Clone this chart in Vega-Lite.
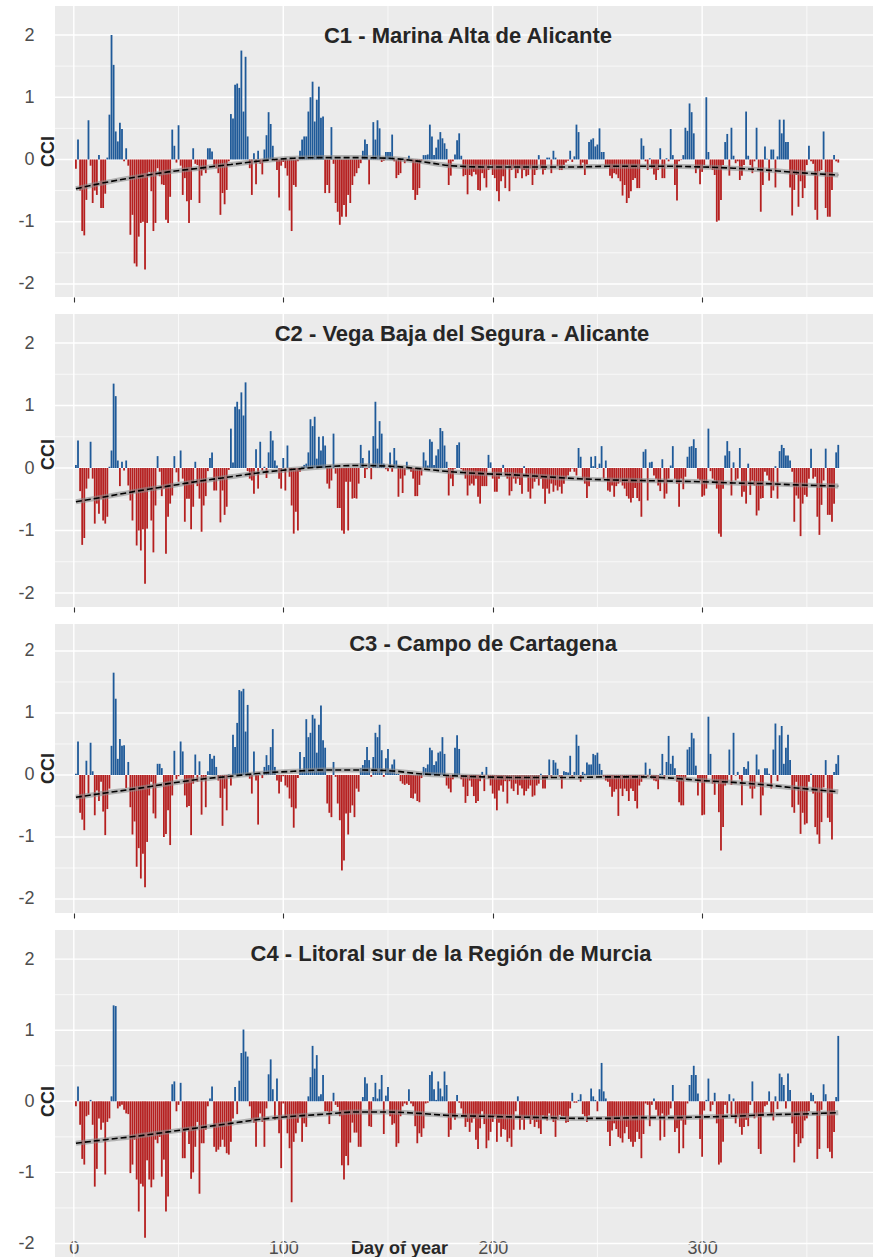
{
"$schema": "https://vega.github.io/schema/vega-lite/v6.json",
"background": "white",
"padding": {"left": 17, "top": 5, "right": 0, "bottom": 0},
"bounds": "flush",
"spacing": 17,
"resolve": {"scale": {"x": "independent", "y": "independent"}},
"config": {
  "view": {"fill": "#EBEBEB", "stroke": null},
  "font": "Liberation Sans",
  "axis": {"grid": false, "domain": false, "ticks": false, "labelFont": "Liberation Sans", "titleFont": "Liberation Sans", "labelFontSize": 18, "labelColor": "#4D4D4D", "titleFontSize": 18, "titleFontWeight": "bold", "titleColor": "#262626"}
},
"datasets": {
"c1": [
{"d":1,"v":-0.15},{"d":2,"v":0.32},{"d":3,"v":-0.5},{"d":4,"v":-1.15},{"d":5,"v":-1.22},{"d":6,"v":-0.65},{"d":7,"v":0.63},{"d":8,"v":-0.1},{"d":9,"v":-0.7},{"d":10,"v":-0.5},
{"d":11,"v":-0.57},{"d":12,"v":0.07},{"d":13,"v":-0.78},{"d":14,"v":-0.78},{"d":15,"v":-0.55},{"d":16,"v":0.03},{"d":17,"v":0.72},{"d":18,"v":2.0},{"d":19,"v":1.52},{"d":20,"v":0.45},
{"d":21,"v":0.29},{"d":22,"v":0.59},{"d":23,"v":0.49},{"d":24,"v":-0.03},{"d":25,"v":0.18},{"d":26,"v":-0.1},{"d":27,"v":-1.21},{"d":28,"v":-0.89},{"d":29,"v":-1.67},{"d":30,"v":-1.72},
{"d":31,"v":-1.24},{"d":32,"v":-1.02},{"d":33,"v":-1.0},{"d":34,"v":-1.77},{"d":35,"v":-1.02},{"d":36,"v":-0.2},{"d":37,"v":-0.51},{"d":38,"v":-1.15},{"d":39,"v":-1.02},{"d":40,"v":-0.14},
{"d":41,"v":-0.27},{"d":42,"v":-0.4},{"d":43,"v":-0.41},{"d":44,"v":-0.97},{"d":45,"v":-1.02},{"d":46,"v":-0.6},{"d":47,"v":0.48},{"d":48,"v":0.22},{"d":49,"v":-0.05},{"d":50,"v":0.55},
{"d":51,"v":-0.1},{"d":52,"v":-0.57},{"d":53,"v":-0.3},{"d":54,"v":-0.67},{"d":55,"v":-1.02},{"d":56,"v":-0.65},{"d":57,"v":0.18},{"d":58,"v":-0.07},{"d":59,"v":-0.09},{"d":60,"v":-0.7},
{"d":61,"v":-0.26},{"d":62,"v":-0.17},{"d":63,"v":-0.22},{"d":64,"v":0.18},{"d":65,"v":0.18},{"d":66,"v":0.13},{"d":67,"v":-0.1},{"d":68,"v":-0.14},{"d":69,"v":-0.22},{"d":70,"v":-0.89},
{"d":71,"v":-0.54},{"d":72,"v":-0.72},{"d":73,"v":-0.49},{"d":74,"v":-0.03},{"d":75,"v":0.73},{"d":76,"v":0.66},{"d":77,"v":1.2},{"d":78,"v":1.22},{"d":79,"v":1.15},{"d":80,"v":1.75},
{"d":81,"v":0.77},{"d":82,"v":1.65},{"d":83,"v":0.37},{"d":84,"v":-0.14},{"d":85,"v":-0.57},{"d":86,"v":0.1},{"d":87,"v":-0.4},{"d":88,"v":0.14},{"d":89,"v":-0.07},{"d":90,"v":-0.24},
{"d":91,"v":0.16},{"d":92,"v":0.39},{"d":93,"v":0.76},{"d":94,"v":0.57},{"d":95,"v":0.22},{"d":96,"v":-0.02},{"d":97,"v":-0.17},{"d":98,"v":-0.61},{"d":99,"v":-0.1},{"d":100,"v":-0.04},
{"d":101,"v":-0.14},{"d":102,"v":-0.26},{"d":103,"v":-0.82},{"d":104,"v":-1.15},{"d":105,"v":-0.41},{"d":106,"v":-0.44},{"d":107,"v":-0.03},{"d":108,"v":0.14},{"d":109,"v":0.32},{"d":110,"v":0.37},
{"d":111,"v":0.37},{"d":112,"v":0.77},{"d":113,"v":1.0},{"d":114,"v":1.25},{"d":115,"v":0.61},{"d":116,"v":0.96},{"d":117,"v":1.17},{"d":118,"v":0.67},{"d":119,"v":0.69},{"d":120,"v":-0.54},
{"d":121,"v":-0.41},{"d":122,"v":-0.54},{"d":123,"v":0.52},{"d":124,"v":-0.07},{"d":125,"v":-0.7},{"d":126,"v":-0.84},{"d":127,"v":-1.05},{"d":128,"v":-0.92},{"d":129,"v":-0.73},{"d":130,"v":-0.92},
{"d":131,"v":-0.57},{"d":132,"v":-0.7},{"d":133,"v":-0.41},{"d":134,"v":-0.27},{"d":135,"v":-0.22},{"d":136,"v":-0.14},{"d":137,"v":-0.06},{"d":138,"v":0.14},{"d":139,"v":0.32},{"d":140,"v":0.25},
{"d":141,"v":-0.4},{"d":142,"v":0.02},{"d":143,"v":0.6},{"d":144,"v":0.32},{"d":145,"v":0.63},{"d":146,"v":0.5},{"d":147,"v":-0.04},{"d":148,"v":-0.02},{"d":149,"v":0.12},{"d":150,"v":0.12},
{"d":151,"v":0.12},{"d":152,"v":0.4},{"d":153,"v":-0.03},{"d":154,"v":-0.3},{"d":155,"v":-0.25},{"d":156,"v":-0.22},{"d":157,"v":0.02},{"d":158,"v":-0.06},{"d":159,"v":-0.02},{"d":160,"v":0.06},
{"d":161,"v":-0.03},{"d":162,"v":-0.49},{"d":163,"v":-0.65},{"d":164,"v":-0.57},{"d":165,"v":-0.46},{"d":166,"v":-0.02},{"d":167,"v":0.07},{"d":168,"v":0.07},{"d":169,"v":0.08},{"d":170,"v":0.56},
{"d":171,"v":0.37},{"d":172,"v":0.07},{"d":173,"v":0.19},{"d":174,"v":0.32},{"d":175,"v":0.44},{"d":176,"v":0.34},{"d":177,"v":0.26},{"d":178,"v":0.17},{"d":179,"v":-0.41},{"d":180,"v":-0.26},
{"d":181,"v":-0.03},{"d":182,"v":0.08},{"d":183,"v":0.31},{"d":184,"v":0.42},{"d":185,"v":0.06},{"d":186,"v":-0.27},{"d":187,"v":-0.25},{"d":188,"v":-0.56},{"d":189,"v":-0.25},{"d":190,"v":-0.27},
{"d":191,"v":-0.2},{"d":192,"v":-0.24},{"d":193,"v":-0.49},{"d":194,"v":-0.5},{"d":195,"v":-0.22},{"d":196,"v":-0.3},{"d":197,"v":-0.45},{"d":198,"v":-0.17},{"d":199,"v":-0.09},{"d":200,"v":-0.25},
{"d":201,"v":-0.3},{"d":202,"v":-0.51},{"d":203,"v":-0.67},{"d":204,"v":-0.35},{"d":205,"v":-0.27},{"d":206,"v":-0.46},{"d":207,"v":-0.09},{"d":208,"v":-0.51},{"d":209,"v":-0.17},{"d":210,"v":-0.14},
{"d":211,"v":-0.3},{"d":212,"v":-0.22},{"d":213,"v":-0.14},{"d":214,"v":-0.3},{"d":215,"v":-0.17},{"d":216,"v":-0.27},{"d":217,"v":-0.25},{"d":218,"v":-0.14},{"d":219,"v":-0.41},{"d":220,"v":-0.25},
{"d":221,"v":-0.17},{"d":222,"v":0.07},{"d":223,"v":-0.14},{"d":224,"v":-0.24},{"d":225,"v":-0.17},{"d":226,"v":0.03},{"d":227,"v":0.03},{"d":228,"v":-0.22},{"d":229,"v":0.14},{"d":230,"v":0.03},
{"d":231,"v":-0.11},{"d":232,"v":-0.17},{"d":233,"v":-0.17},{"d":234,"v":-0.09},{"d":235,"v":-0.05},{"d":236,"v":-0.02},{"d":237,"v":0.14},{"d":238,"v":-0.04},{"d":239,"v":0.05},{"d":240,"v":0.56},
{"d":241,"v":0.44},{"d":242,"v":-0.14},{"d":243,"v":-0.05},{"d":244,"v":-0.25},{"d":245,"v":-0.08},{"d":246,"v":0.28},{"d":247,"v":0.32},{"d":248,"v":0.34},{"d":249,"v":0.21},{"d":250,"v":0.24},
{"d":251,"v":0.5},{"d":252,"v":0.12},{"d":253,"v":0.12},{"d":254,"v":-0.09},{"d":255,"v":-0.09},{"d":256,"v":-0.26},{"d":257,"v":-0.3},{"d":258,"v":-0.22},{"d":259,"v":-0.24},{"d":260,"v":-0.3},
{"d":261,"v":-0.35},{"d":262,"v":-0.58},{"d":263,"v":-0.41},{"d":264,"v":-0.7},{"d":265,"v":-0.62},{"d":266,"v":-0.51},{"d":267,"v":-0.33},{"d":268,"v":-0.3},{"d":269,"v":-0.46},{"d":270,"v":-0.46},
{"d":271,"v":0.34},{"d":272,"v":0.22},{"d":273,"v":-0.03},{"d":274,"v":-0.17},{"d":275,"v":0.02},{"d":276,"v":-0.14},{"d":277,"v":-0.24},{"d":278,"v":-0.33},{"d":279,"v":-0.17},{"d":280,"v":0.18},
{"d":281,"v":-0.3},{"d":282,"v":-0.3},{"d":283,"v":0.02},{"d":284,"v":-0.03},{"d":285,"v":0.49},{"d":286,"v":0.07},{"d":287,"v":-0.41},{"d":288,"v":-0.66},{"d":289,"v":-0.03},{"d":290,"v":-0.01},
{"d":291,"v":0.07},{"d":292,"v":0.51},{"d":293,"v":0.46},{"d":294,"v":0.9},{"d":295,"v":0.76},{"d":296,"v":0.42},{"d":297,"v":-0.22},{"d":298,"v":-0.14},{"d":299,"v":-0.4},{"d":300,"v":-0.2},
{"d":301,"v":-0.09},{"d":302,"v":1.0},{"d":303,"v":0.12},{"d":304,"v":-0.14},{"d":305,"v":-0.17},{"d":306,"v":-0.25},{"d":307,"v":-1.0},{"d":308,"v":-0.98},{"d":309,"v":-0.65},{"d":310,"v":-0.09},
{"d":311,"v":0.28},{"d":312,"v":0.41},{"d":313,"v":-0.26},{"d":314,"v":0.51},{"d":315,"v":0.06},{"d":316,"v":-0.06},{"d":317,"v":-0.03},{"d":318,"v":-0.33},{"d":319,"v":-0.26},{"d":320,"v":-0.09},
{"d":321,"v":0.77},{"d":322,"v":0.06},{"d":323,"v":-0.09},{"d":324,"v":-0.22},{"d":325,"v":-0.03},{"d":326,"v":0.51},{"d":327,"v":-0.14},{"d":328,"v":-0.84},{"d":329,"v":-0.41},{"d":330,"v":0.21},
{"d":331,"v":0.01},{"d":332,"v":-0.34},{"d":333,"v":0.16},{"d":334,"v":0.16},{"d":335,"v":-0.45},{"d":336,"v":0.05},{"d":337,"v":0.64},{"d":338,"v":0.42},{"d":339,"v":0.64},{"d":340,"v":0.28},
{"d":341,"v":0.28},{"d":342,"v":-0.45},{"d":343,"v":-0.9},{"d":344,"v":-0.49},{"d":345,"v":-0.25},{"d":346,"v":-0.76},{"d":347,"v":-0.35},{"d":348,"v":-0.62},{"d":349,"v":-0.46},{"d":350,"v":-0.09},
{"d":351,"v":0.22},{"d":352,"v":-0.03},{"d":353,"v":-0.07},{"d":354,"v":-0.81},{"d":355,"v":-0.97},{"d":356,"v":-0.19},{"d":357,"v":-0.17},{"d":358,"v":0.45},{"d":359,"v":-0.78},{"d":360,"v":-0.92},
{"d":361,"v":-0.92},{"d":362,"v":-0.49},{"d":363,"v":0.07},{"d":364,"v":-0.03},{"d":365,"v":-0.05}
],
"c2": [
{"d":1,"v":0.05},{"d":2,"v":0.44},{"d":3,"v":-0.37},{"d":4,"v":-1.23},{"d":5,"v":-1.12},{"d":6,"v":-0.33},{"d":7,"v":-0.17},{"d":8,"v":0.42},{"d":9,"v":-0.17},{"d":10,"v":-0.89},
{"d":11,"v":-0.57},{"d":12,"v":-0.73},{"d":13,"v":-0.49},{"d":14,"v":-0.84},{"d":15,"v":-0.89},{"d":16,"v":-0.78},{"d":17,"v":0.02},{"d":18,"v":0.28},{"d":19,"v":1.35},{"d":20,"v":1.15},
{"d":21,"v":0.12},{"d":22,"v":-0.29},{"d":23,"v":0.1},{"d":24,"v":-0.04},{"d":25,"v":0.12},{"d":26,"v":-0.28},{"d":27,"v":-0.52},{"d":28,"v":-0.84},{"d":29,"v":-0.38},{"d":30,"v":-1.24},
{"d":31,"v":-1.0},{"d":32,"v":-1.32},{"d":33,"v":-0.98},{"d":34,"v":-1.85},{"d":35,"v":-0.97},{"d":36,"v":-0.33},{"d":37,"v":-0.84},{"d":38,"v":-1.35},{"d":39,"v":-0.6},{"d":40,"v":0.19},
{"d":41,"v":-0.06},{"d":42,"v":-0.45},{"d":43,"v":-0.33},{"d":44,"v":-1.37},{"d":45,"v":-0.78},{"d":46,"v":-0.57},{"d":47,"v":-0.44},{"d":48,"v":0.19},{"d":49,"v":-0.07},{"d":50,"v":-0.22},
{"d":51,"v":0.28},{"d":52,"v":-0.17},{"d":53,"v":-0.86},{"d":54,"v":-0.49},{"d":55,"v":-0.49},{"d":56,"v":-0.98},{"d":57,"v":-0.62},{"d":58,"v":0.1},{"d":59,"v":-0.29},{"d":60,"v":-0.49},
{"d":61,"v":-1.02},{"d":62,"v":-0.6},{"d":63,"v":-0.45},{"d":64,"v":-0.05},{"d":65,"v":0.16},{"d":66,"v":0.25},{"d":67,"v":-0.36},{"d":68,"v":-0.36},{"d":69,"v":-0.17},{"d":70,"v":-0.87},
{"d":71,"v":-0.36},{"d":72,"v":-0.75},{"d":73,"v":-0.62},{"d":74,"v":-0.03},{"d":75,"v":0.63},{"d":76,"v":0.09},{"d":77,"v":0.98},{"d":78,"v":1.06},{"d":79,"v":0.94},{"d":80,"v":1.21},
{"d":81,"v":0.84},{"d":82,"v":1.37},{"d":83,"v":-0.05},{"d":84,"v":-0.17},{"d":85,"v":-0.2},{"d":86,"v":-0.41},{"d":87,"v":0.3},{"d":88,"v":-0.33},{"d":89,"v":0.42},{"d":90,"v":-0.04},
{"d":91,"v":0.02},{"d":92,"v":-0.16},{"d":93,"v":0.25},{"d":94,"v":0.59},{"d":95,"v":0.44},{"d":96,"v":0.12},{"d":97,"v":0.04},{"d":98,"v":-0.17},{"d":99,"v":-0.33},{"d":100,"v":0.16},
{"d":101,"v":-0.36},{"d":102,"v":0.36},{"d":103,"v":-0.14},{"d":104,"v":-0.6},{"d":105,"v":-1.05},{"d":106,"v":-0.7},{"d":107,"v":-1.0},{"d":108,"v":-0.06},{"d":109,"v":0.02},{"d":110,"v":0.05},
{"d":111,"v":0.07},{"d":112,"v":0.25},{"d":113,"v":0.78},{"d":114,"v":0.67},{"d":115,"v":0.82},{"d":116,"v":0.15},{"d":117,"v":0.5},{"d":118,"v":0.28},{"d":119,"v":0.51},{"d":120,"v":0.36},
{"d":121,"v":-0.25},{"d":122,"v":-0.33},{"d":123,"v":-0.2},{"d":124,"v":0.55},{"d":125,"v":-0.09},{"d":126,"v":-0.64},{"d":127,"v":-0.64},{"d":128,"v":-1.0},{"d":129,"v":-1.05},{"d":130,"v":-0.22},
{"d":131,"v":-1.0},{"d":132,"v":-0.22},{"d":133,"v":-0.49},{"d":134,"v":-0.48},{"d":135,"v":-0.49},{"d":136,"v":-0.25},{"d":137,"v":0.37},{"d":138,"v":0.16},{"d":139,"v":-0.16},{"d":140,"v":-0.02},
{"d":141,"v":0.28},{"d":142,"v":-0.18},{"d":143,"v":0.51},{"d":144,"v":1.06},{"d":145,"v":0.31},{"d":146,"v":0.75},{"d":147,"v":0.55},{"d":148,"v":0.07},{"d":149,"v":-0.02},{"d":150,"v":-0.05},
{"d":151,"v":0.25},{"d":152,"v":-0.06},{"d":153,"v":0.32},{"d":154,"v":0.12},{"d":155,"v":-0.46},{"d":156,"v":-0.17},{"d":157,"v":-0.4},{"d":158,"v":-0.12},{"d":159,"v":0.1},{"d":160,"v":-0.01},
{"d":161,"v":-0.06},{"d":162,"v":-0.17},{"d":163,"v":-0.45},{"d":164,"v":-0.45},{"d":165,"v":-0.27},{"d":166,"v":-0.12},{"d":167,"v":0.25},{"d":168,"v":0.12},{"d":169,"v":0.04},{"d":170,"v":0.46},
{"d":171,"v":0.42},{"d":172,"v":0.05},{"d":173,"v":0.2},{"d":174,"v":0.3},{"d":175,"v":0.64},{"d":176,"v":0.59},{"d":177,"v":0.36},{"d":178,"v":0.1},{"d":179,"v":-0.44},{"d":180,"v":-0.17},
{"d":181,"v":-0.29},{"d":182,"v":-0.01},{"d":183,"v":0.37},{"d":184,"v":0.41},{"d":185,"v":-0.02},{"d":186,"v":-0.05},{"d":187,"v":-0.17},{"d":188,"v":-0.44},{"d":189,"v":-0.28},{"d":190,"v":-0.25},
{"d":191,"v":-0.28},{"d":192,"v":-0.17},{"d":193,"v":-0.46},{"d":194,"v":-0.57},{"d":195,"v":-0.29},{"d":196,"v":-0.29},{"d":197,"v":-0.29},{"d":198,"v":0.21},{"d":199,"v":0.09},{"d":200,"v":-0.17},
{"d":201,"v":-0.38},{"d":202,"v":-0.38},{"d":203,"v":-0.17},{"d":204,"v":-0.08},{"d":205,"v":0.05},{"d":206,"v":-0.12},{"d":207,"v":-0.17},{"d":208,"v":-0.44},{"d":209,"v":-0.37},{"d":210,"v":-0.17},
{"d":211,"v":-0.25},{"d":212,"v":-0.17},{"d":213,"v":-0.27},{"d":214,"v":-0.41},{"d":215,"v":0.03},{"d":216,"v":-0.12},{"d":217,"v":-0.38},{"d":218,"v":-0.49},{"d":219,"v":-0.33},{"d":220,"v":-0.22},
{"d":221,"v":-0.17},{"d":222,"v":-0.28},{"d":223,"v":-0.17},{"d":224,"v":-0.33},{"d":225,"v":-0.57},{"d":226,"v":-0.33},{"d":227,"v":-0.41},{"d":228,"v":-0.25},{"d":229,"v":-0.38},{"d":230,"v":-0.28},
{"d":231,"v":-0.36},{"d":232,"v":-0.3},{"d":233,"v":-0.41},{"d":234,"v":-0.25},{"d":235,"v":-0.17},{"d":236,"v":-0.12},{"d":237,"v":-0.06},{"d":238,"v":-0.01},{"d":239,"v":-0.06},{"d":240,"v":-0.12},
{"d":241,"v":0.32},{"d":242,"v":0.18},{"d":243,"v":-0.17},{"d":244,"v":-0.25},{"d":245,"v":-0.48},{"d":246,"v":-0.29},{"d":247,"v":0.18},{"d":248,"v":0.03},{"d":249,"v":0.19},{"d":250,"v":-0.01},
{"d":251,"v":0.07},{"d":252,"v":0.35},{"d":253,"v":-0.17},{"d":254,"v":0.12},{"d":255,"v":-0.36},{"d":256,"v":-0.38},{"d":257,"v":-0.28},{"d":258,"v":-0.46},{"d":259,"v":-0.29},{"d":260,"v":-0.25},
{"d":261,"v":-0.22},{"d":262,"v":-0.28},{"d":263,"v":-0.33},{"d":264,"v":-0.45},{"d":265,"v":-0.49},{"d":266,"v":-0.55},{"d":267,"v":-0.48},{"d":268,"v":-0.32},{"d":269,"v":-0.48},{"d":270,"v":-0.53},
{"d":271,"v":-0.78},{"d":272,"v":0.26},{"d":273,"v":0.3},{"d":274,"v":-0.52},{"d":275,"v":0.09},{"d":276,"v":0.1},{"d":277,"v":-0.12},{"d":278,"v":-0.17},{"d":279,"v":-0.28},{"d":280,"v":-0.37},
{"d":281,"v":0.14},{"d":282,"v":-0.49},{"d":283,"v":-0.41},{"d":284,"v":-0.17},{"d":285,"v":0.04},{"d":286,"v":0.35},{"d":287,"v":-0.17},{"d":288,"v":-0.25},{"d":289,"v":-0.62},{"d":290,"v":-0.17},
{"d":291,"v":-0.34},{"d":292,"v":-0.14},{"d":293,"v":0.18},{"d":294,"v":0.34},{"d":295,"v":0.35},{"d":296,"v":0.46},{"d":297,"v":0.32},{"d":298,"v":-0.17},{"d":299,"v":-0.2},{"d":300,"v":-0.46},
{"d":301,"v":-0.44},{"d":302,"v":-0.33},{"d":303,"v":0.63},{"d":304,"v":-0.05},{"d":305,"v":-0.17},{"d":306,"v":-0.2},{"d":307,"v":-0.33},{"d":308,"v":-1.05},{"d":309,"v":-1.1},{"d":310,"v":-0.33},
{"d":311,"v":0.2},{"d":312,"v":0.43},{"d":313,"v":0.27},{"d":314,"v":-0.44},{"d":315,"v":0.09},{"d":316,"v":-0.2},{"d":317,"v":-0.17},{"d":318,"v":0.32},{"d":319,"v":-0.46},{"d":320,"v":-0.38},
{"d":321,"v":-0.57},{"d":322,"v":0.07},{"d":323,"v":-0.43},{"d":324,"v":-0.2},{"d":325,"v":-0.28},{"d":326,"v":-0.76},{"d":327,"v":-0.68},{"d":328,"v":-0.49},{"d":329,"v":-0.48},{"d":330,"v":-0.06},
{"d":331,"v":-0.12},{"d":332,"v":-0.2},{"d":333,"v":-0.48},{"d":334,"v":-0.36},{"d":335,"v":0.03},{"d":336,"v":-0.49},{"d":337,"v":0.27},{"d":338,"v":0.37},{"d":339,"v":0.32},{"d":340,"v":0.2},
{"d":341,"v":0.2},{"d":342,"v":0.12},{"d":343,"v":-0.06},{"d":344,"v":-0.86},{"d":345,"v":-0.44},{"d":346,"v":-0.49},{"d":347,"v":-1.09},{"d":348,"v":-0.57},{"d":349,"v":-0.43},{"d":350,"v":-0.46},
{"d":351,"v":-0.17},{"d":352,"v":0.31},{"d":353,"v":-0.17},{"d":354,"v":-0.14},{"d":355,"v":-0.78},{"d":356,"v":-1.07},{"d":357,"v":-0.59},{"d":358,"v":-0.2},{"d":359,"v":0.31},{"d":360,"v":-0.75},
{"d":361,"v":-0.75},{"d":362,"v":-0.86},{"d":363,"v":-0.57},{"d":364,"v":0.25},{"d":365,"v":0.37}
],
"c3": [
{"d":1,"v":0.02},{"d":2,"v":0.54},{"d":3,"v":-0.61},{"d":4,"v":-0.72},{"d":5,"v":-0.89},{"d":6,"v":0.23},{"d":7,"v":-0.3},{"d":8,"v":0.52},{"d":9,"v":0.06},{"d":10,"v":-0.65},
{"d":11,"v":-0.25},{"d":12,"v":-0.42},{"d":13,"v":-0.11},{"d":14,"v":-0.59},{"d":15,"v":-0.97},{"d":16,"v":-0.55},{"d":17,"v":-0.22},{"d":18,"v":0.47},{"d":19,"v":1.65},{"d":20,"v":1.23},
{"d":21,"v":0.26},{"d":22,"v":0.58},{"d":23,"v":0.47},{"d":24,"v":0.48},{"d":25,"v":-0.21},{"d":26,"v":0.21},{"d":27,"v":-0.52},{"d":28,"v":-0.96},{"d":29,"v":-0.75},{"d":30,"v":-1.48},
{"d":31,"v":-1.18},{"d":32,"v":-1.67},{"d":33,"v":-1.27},{"d":34,"v":-1.81},{"d":35,"v":-1.08},{"d":36,"v":-0.33},{"d":37,"v":-0.11},{"d":38,"v":-0.62},{"d":39,"v":-0.7},{"d":40,"v":0.18},
{"d":41,"v":0.18},{"d":42,"v":0.11},{"d":43,"v":-1.0},{"d":44,"v":-0.95},{"d":45,"v":-0.57},{"d":46,"v":-1.13},{"d":47,"v":-0.33},{"d":48,"v":0.39},{"d":49,"v":-0.07},{"d":50,"v":-0.02},
{"d":51,"v":0.54},{"d":52,"v":0.38},{"d":53,"v":-0.33},{"d":54,"v":-0.52},{"d":55,"v":-0.5},{"d":56,"v":-0.97},{"d":57,"v":-0.14},{"d":58,"v":0.33},{"d":59,"v":-0.11},{"d":60,"v":0.22},
{"d":61,"v":-0.64},{"d":62,"v":-0.07},{"d":63,"v":-0.52},{"d":64,"v":0.06},{"d":65,"v":0.34},{"d":66,"v":0.26},{"d":67,"v":0.31},{"d":68,"v":0.13},{"d":69,"v":-0.09},{"d":70,"v":-0.37},
{"d":71,"v":-0.82},{"d":72,"v":-0.22},{"d":73,"v":-0.57},{"d":74,"v":0.01},{"d":75,"v":-0.17},{"d":76,"v":0.65},{"d":77,"v":0.45},{"d":78,"v":0.84},{"d":79,"v":1.37},{"d":80,"v":1.35},
{"d":81,"v":1.39},{"d":82,"v":0.7},{"d":83,"v":1.13},{"d":84,"v":-0.06},{"d":85,"v":-0.3},{"d":86,"v":0.38},{"d":87,"v":-0.09},{"d":88,"v":-0.8},{"d":89,"v":0.01},{"d":90,"v":-0.05},
{"d":91,"v":0.13},{"d":92,"v":0.32},{"d":93,"v":0.16},{"d":94,"v":0.45},{"d":95,"v":0.74},{"d":96,"v":0.13},{"d":97,"v":-0.09},{"d":98,"v":-0.3},{"d":99,"v":-0.11},{"d":100,"v":-0.02},
{"d":101,"v":-0.17},{"d":102,"v":-0.2},{"d":103,"v":-0.38},{"d":104,"v":-0.52},{"d":105,"v":-0.85},{"d":106,"v":-0.54},{"d":107,"v":-0.05},{"d":108,"v":0.37},{"d":109,"v":0.05},{"d":110,"v":0.29},
{"d":111,"v":0.9},{"d":112,"v":0.61},{"d":113,"v":0.68},{"d":114,"v":0.97},{"d":115,"v":0.91},{"d":116,"v":0.36},{"d":117,"v":0.81},{"d":118,"v":1.12},{"d":119,"v":0.56},{"d":120,"v":0.44},
{"d":121,"v":-0.46},{"d":122,"v":-0.61},{"d":123,"v":-0.68},{"d":124,"v":0.21},{"d":125,"v":-0.03},{"d":126,"v":-0.46},{"d":127,"v":-0.73},{"d":128,"v":-1.54},{"d":129,"v":-1.38},{"d":130,"v":-0.62},
{"d":131,"v":-0.96},{"d":132,"v":-0.61},{"d":133,"v":-0.49},{"d":134,"v":-0.68},{"d":135,"v":-0.22},{"d":136,"v":-0.27},{"d":137,"v":0.11},{"d":138,"v":0.16},{"d":139,"v":0.24},{"d":140,"v":0.45},
{"d":141,"v":0.24},{"d":142,"v":-0.03},{"d":143,"v":0.29},{"d":144,"v":0.68},{"d":145,"v":0.61},{"d":146,"v":0.81},{"d":147,"v":0.4},{"d":148,"v":-0.03},{"d":149,"v":0.27},{"d":150,"v":0.42},
{"d":151,"v":0.09},{"d":152,"v":0.17},{"d":153,"v":0.25},{"d":154,"v":0.02},{"d":155,"v":0.02},{"d":156,"v":-0.1},{"d":157,"v":-0.14},{"d":158,"v":-0.16},{"d":159,"v":-0.14},{"d":160,"v":-0.16},
{"d":161,"v":-0.37},{"d":162,"v":-0.38},{"d":163,"v":-0.3},{"d":164,"v":-0.42},{"d":165,"v":-0.44},{"d":166,"v":-0.05},{"d":167,"v":0.13},{"d":168,"v":0.11},{"d":169,"v":0.17},{"d":170,"v":0.44},
{"d":171,"v":0.4},{"d":172,"v":0.16},{"d":173,"v":0.22},{"d":174,"v":0.36},{"d":175,"v":0.38},{"d":176,"v":0.61},{"d":177,"v":0.34},{"d":178,"v":-0.17},{"d":179,"v":-0.22},{"d":180,"v":-0.28},
{"d":181,"v":-0.07},{"d":182,"v":0.44},{"d":183,"v":0.64},{"d":184,"v":0.42},{"d":185,"v":-0.07},{"d":186,"v":-0.19},{"d":187,"v":-0.45},{"d":188,"v":-0.34},{"d":189,"v":-0.09},{"d":190,"v":-0.19},
{"d":191,"v":-0.34},{"d":192,"v":-0.45},{"d":193,"v":-0.42},{"d":194,"v":-0.1},{"d":195,"v":0.05},{"d":196,"v":-0.26},{"d":197,"v":0.13},{"d":198,"v":-0.06},{"d":199,"v":-0.17},{"d":200,"v":-0.3},
{"d":201,"v":-0.38},{"d":202,"v":-0.57},{"d":203,"v":-0.25},{"d":204,"v":-0.17},{"d":205,"v":-0.27},{"d":206,"v":-0.1},{"d":207,"v":-0.46},{"d":208,"v":-0.1},{"d":209,"v":-0.22},{"d":210,"v":-0.26},
{"d":211,"v":-0.14},{"d":212,"v":-0.32},{"d":213,"v":-0.17},{"d":214,"v":-0.22},{"d":215,"v":-0.33},{"d":216,"v":-0.26},{"d":217,"v":-0.22},{"d":218,"v":-0.17},{"d":219,"v":-0.35},{"d":220,"v":-0.33},
{"d":221,"v":-0.17},{"d":222,"v":-0.14},{"d":223,"v":0.02},{"d":224,"v":-0.22},{"d":225,"v":-0.22},{"d":226,"v":-0.05},{"d":227,"v":0.25},{"d":228,"v":-0.05},{"d":229,"v":0.24},{"d":230,"v":0.2},
{"d":231,"v":0.1},{"d":232,"v":-0.03},{"d":233,"v":-0.22},{"d":234,"v":0.06},{"d":235,"v":0.05},{"d":236,"v":0.04},{"d":237,"v":0.31},{"d":238,"v":-0.03},{"d":239,"v":0.05},{"d":240,"v":0.65},
{"d":241,"v":0.47},{"d":242,"v":-0.11},{"d":243,"v":0.05},{"d":244,"v":0.02},{"d":245,"v":0.2},{"d":246,"v":0.17},{"d":247,"v":0.17},{"d":248,"v":0.34},{"d":249,"v":0.32},{"d":250,"v":0.36},
{"d":251,"v":0.18},{"d":252,"v":0.08},{"d":253,"v":-0.03},{"d":254,"v":-0.09},{"d":255,"v":-0.11},{"d":256,"v":-0.19},{"d":257,"v":-0.35},{"d":258,"v":-0.27},{"d":259,"v":-0.23},{"d":260,"v":-0.66},
{"d":261,"v":-0.22},{"d":262,"v":-0.34},{"d":263,"v":-0.22},{"d":264,"v":-0.26},{"d":265,"v":-0.42},{"d":266,"v":-0.22},{"d":267,"v":-0.26},{"d":268,"v":-0.42},{"d":269,"v":-0.54},{"d":270,"v":-0.17},
{"d":271,"v":-0.11},{"d":272,"v":-0.05},{"d":273,"v":0.2},{"d":274,"v":-0.03},{"d":275,"v":0.1},{"d":276,"v":-0.06},{"d":277,"v":-0.09},{"d":278,"v":-0.1},{"d":279,"v":-0.23},{"d":280,"v":0.02},
{"d":281,"v":0.34},{"d":282,"v":-0.07},{"d":283,"v":0.21},{"d":284,"v":0.63},{"d":285,"v":0.18},{"d":286,"v":0.31},{"d":287,"v":0.11},{"d":288,"v":-0.11},{"d":289,"v":-0.44},{"d":290,"v":-0.49},
{"d":291,"v":-0.49},{"d":292,"v":-0.06},{"d":293,"v":0.41},{"d":294,"v":0.45},{"d":295,"v":0.68},{"d":296,"v":0.59},{"d":297,"v":0.15},{"d":298,"v":-0.33},{"d":299,"v":-0.11},{"d":300,"v":-0.65},
{"d":301,"v":-0.64},{"d":302,"v":-0.11},{"d":303,"v":0.94},{"d":304,"v":0.34},{"d":305,"v":-0.14},{"d":306,"v":-0.32},{"d":307,"v":-0.11},{"d":308,"v":-0.6},{"d":309,"v":-1.22},{"d":310,"v":-0.84},
{"d":311,"v":-0.17},{"d":312,"v":-0.11},{"d":313,"v":0.41},{"d":314,"v":-0.16},{"d":315,"v":0.68},{"d":316,"v":-0.01},{"d":317,"v":0.05},{"d":318,"v":-0.07},{"d":319,"v":-0.49},{"d":320,"v":0.13},
{"d":321,"v":0.1},{"d":322,"v":0.22},{"d":323,"v":-0.22},{"d":324,"v":-0.38},{"d":325,"v":-0.22},{"d":326,"v":0.33},{"d":327,"v":0.09},{"d":328,"v":-0.65},{"d":329,"v":-0.33},{"d":330,"v":0.11},
{"d":331,"v":0.11},{"d":332,"v":0.02},{"d":333,"v":-0.22},{"d":334,"v":0.41},{"d":335,"v":0.83},{"d":336,"v":-0.1},{"d":337,"v":0.64},{"d":338,"v":0.79},{"d":339,"v":0.18},{"d":340,"v":0.44},
{"d":341,"v":0.65},{"d":342,"v":0.24},{"d":343,"v":-0.52},{"d":344,"v":-0.61},{"d":345,"v":-0.11},{"d":346,"v":-0.48},{"d":347,"v":-0.95},{"d":348,"v":-0.61},{"d":349,"v":-0.8},{"d":350,"v":-0.78},
{"d":351,"v":-0.11},{"d":352,"v":0.02},{"d":353,"v":-0.3},{"d":354,"v":-0.84},{"d":355,"v":-0.96},{"d":356,"v":-1.11},{"d":357,"v":-0.76},{"d":358,"v":-0.2},{"d":359,"v":0.24},{"d":360,"v":-0.69},
{"d":361,"v":-0.76},{"d":362,"v":-1.04},{"d":363,"v":0.05},{"d":364,"v":0.18},{"d":365,"v":0.32}
],
"c4": [
{"d":1,"v":-0.07},{"d":2,"v":0.21},{"d":3,"v":-0.33},{"d":4,"v":-0.81},{"d":5,"v":-0.89},{"d":6,"v":-0.21},{"d":7,"v":-0.19},{"d":8,"v":0.02},{"d":9,"v":-0.33},{"d":10,"v":-1.2},
{"d":11,"v":-0.95},{"d":12,"v":-0.24},{"d":13,"v":-0.4},{"d":14,"v":-0.3},{"d":15,"v":-1.03},{"d":16,"v":-0.29},{"d":17,"v":-0.24},{"d":18,"v":0.07},{"d":19,"v":1.35},{"d":20,"v":1.34},
{"d":21,"v":-0.1},{"d":22,"v":-0.07},{"d":23,"v":-0.05},{"d":24,"v":-0.12},{"d":25,"v":-0.17},{"d":26,"v":-0.18},{"d":27,"v":-1.01},{"d":28,"v":-0.89},{"d":29,"v":-0.54},{"d":30,"v":-1.1},
{"d":31,"v":-1.55},{"d":32,"v":-1.16},{"d":33,"v":-1.2},{"d":34,"v":-1.92},{"d":35,"v":-0.83},{"d":36,"v":-1.1},{"d":37,"v":-1.21},{"d":38,"v":-1.1},{"d":39,"v":-0.54},{"d":40,"v":-0.59},
{"d":41,"v":-0.5},{"d":42,"v":-1.06},{"d":43,"v":-0.82},{"d":44,"v":-1.55},{"d":45,"v":-1.34},{"d":46,"v":-0.4},{"d":47,"v":0.24},{"d":48,"v":0.28},{"d":49,"v":-0.14},{"d":50,"v":-0.05},
{"d":51,"v":0.26},{"d":52,"v":-0.8},{"d":53,"v":-0.8},{"d":54,"v":-0.4},{"d":55,"v":-0.6},{"d":56,"v":-1.09},{"d":57,"v":-1.0},{"d":58,"v":-0.64},{"d":59,"v":-0.29},{"d":60,"v":-1.3},
{"d":61,"v":-0.59},{"d":62,"v":-0.59},{"d":63,"v":-0.4},{"d":64,"v":-0.07},{"d":65,"v":0.04},{"d":66,"v":0.21},{"d":67,"v":-0.64},{"d":68,"v":-0.71},{"d":69,"v":-0.68},{"d":70,"v":-0.64},
{"d":71,"v":-0.54},{"d":72,"v":-0.64},{"d":73,"v":-0.73},{"d":74,"v":-0.75},{"d":75,"v":-0.57},{"d":76,"v":-0.24},{"d":77,"v":0.2},{"d":78,"v":-0.18},{"d":79,"v":0.29},{"d":80,"v":0.68},
{"d":81,"v":1.01},{"d":82,"v":0.7},{"d":83,"v":0.63},{"d":84,"v":-0.07},{"d":85,"v":-0.26},{"d":86,"v":-0.3},{"d":87,"v":-0.64},{"d":88,"v":-0.24},{"d":89,"v":-0.17},{"d":90,"v":-0.29},
{"d":91,"v":-0.64},{"d":92,"v":-0.1},{"d":93,"v":0.38},{"d":94,"v":0.59},{"d":95,"v":0.17},{"d":96,"v":-0.26},{"d":97,"v":0.32},{"d":98,"v":-0.45},{"d":99,"v":-0.94},{"d":100,"v":-0.03},
{"d":101,"v":-0.22},{"d":102,"v":-0.45},{"d":103,"v":-0.66},{"d":104,"v":-1.42},{"d":105,"v":-0.57},{"d":106,"v":-0.45},{"d":107,"v":-0.3},{"d":108,"v":-0.19},{"d":109,"v":-0.57},{"d":110,"v":-0.31},
{"d":111,"v":-0.36},{"d":112,"v":0.07},{"d":113,"v":0.34},{"d":114,"v":0.78},{"d":115,"v":0.46},{"d":116,"v":0.65},{"d":117,"v":0.07},{"d":118,"v":0.1},{"d":119,"v":0.37},{"d":120,"v":-0.14},
{"d":121,"v":-0.14},{"d":122,"v":-0.32},{"d":123,"v":-0.14},{"d":124,"v":0.12},{"d":125,"v":-0.05},{"d":126,"v":-0.08},{"d":127,"v":-0.21},{"d":128,"v":-0.9},{"d":129,"v":-1.1},{"d":130,"v":-0.77},
{"d":131,"v":-0.9},{"d":132,"v":-0.58},{"d":133,"v":-0.3},{"d":134,"v":-0.44},{"d":135,"v":-0.44},{"d":136,"v":-0.64},{"d":137,"v":-0.64},{"d":138,"v":0.06},{"d":139,"v":0.34},{"d":140,"v":0.25},
{"d":141,"v":-0.35},{"d":142,"v":-0.36},{"d":143,"v":0.06},{"d":144,"v":0.26},{"d":145,"v":0.04},{"d":146,"v":0.17},{"d":147,"v":0.37},{"d":148,"v":-0.46},{"d":149,"v":0.08},{"d":150,"v":0.2},
{"d":151,"v":-0.21},{"d":152,"v":-0.33},{"d":153,"v":-0.31},{"d":154,"v":-0.64},{"d":155,"v":-0.59},{"d":156,"v":-0.21},{"d":157,"v":-0.07},{"d":158,"v":-0.03},{"d":159,"v":-0.05},{"d":160,"v":0.17},
{"d":161,"v":-0.03},{"d":162,"v":-0.07},{"d":163,"v":-0.35},{"d":164,"v":-0.59},{"d":165,"v":-0.45},{"d":166,"v":-0.5},{"d":167,"v":-0.38},{"d":168,"v":-0.03},{"d":169,"v":-0.02},{"d":170,"v":0.37},
{"d":171,"v":0.42},{"d":172,"v":0.17},{"d":173,"v":0.02},{"d":174,"v":0.28},{"d":175,"v":0.18},{"d":176,"v":0.07},{"d":177,"v":0.42},{"d":178,"v":0.23},{"d":179,"v":-0.5},{"d":180,"v":-0.4},
{"d":181,"v":-0.21},{"d":182,"v":-0.26},{"d":183,"v":0.09},{"d":184,"v":-0.02},{"d":185,"v":-0.1},{"d":186,"v":-0.21},{"d":187,"v":-0.36},{"d":188,"v":-0.29},{"d":189,"v":-0.43},{"d":190,"v":-0.3},
{"d":191,"v":-0.24},{"d":192,"v":-0.54},{"d":193,"v":-0.67},{"d":194,"v":-0.38},{"d":195,"v":-0.14},{"d":196,"v":-0.32},{"d":197,"v":-0.66},{"d":198,"v":-0.55},{"d":199,"v":-0.43},{"d":200,"v":-0.29},
{"d":201,"v":-0.22},{"d":202,"v":-0.57},{"d":203,"v":-0.3},{"d":204,"v":-0.5},{"d":205,"v":-0.39},{"d":206,"v":-0.4},{"d":207,"v":-0.57},{"d":208,"v":-0.52},{"d":209,"v":-0.64},{"d":210,"v":-0.4},
{"d":211,"v":-0.14},{"d":212,"v":0.07},{"d":213,"v":-0.4},{"d":214,"v":-0.26},{"d":215,"v":-0.4},{"d":216,"v":-0.21},{"d":217,"v":-0.22},{"d":218,"v":-0.32},{"d":219,"v":-0.26},{"d":220,"v":-0.36},
{"d":221,"v":-0.29},{"d":222,"v":-0.38},{"d":223,"v":-0.46},{"d":224,"v":-0.2},{"d":225,"v":-0.24},{"d":226,"v":-0.27},{"d":227,"v":-0.17},{"d":228,"v":-0.24},{"d":229,"v":-0.29},{"d":230,"v":-0.5},
{"d":231,"v":-0.26},{"d":232,"v":-0.19},{"d":233,"v":-0.21},{"d":234,"v":-0.21},{"d":235,"v":-0.3},{"d":236,"v":-0.29},{"d":237,"v":-0.1},{"d":238,"v":0.12},{"d":239,"v":-0.02},{"d":240,"v":-0.02},
{"d":241,"v":0.02},{"d":242,"v":0.1},{"d":243,"v":-0.18},{"d":244,"v":-0.21},{"d":245,"v":-0.29},{"d":246,"v":-0.2},{"d":247,"v":0.18},{"d":248,"v":0.07},{"d":249,"v":0.02},{"d":250,"v":-0.14},
{"d":251,"v":0.17},{"d":252,"v":0.54},{"d":253,"v":0.14},{"d":254,"v":0.04},{"d":255,"v":-0.43},{"d":256,"v":-0.63},{"d":257,"v":-0.41},{"d":258,"v":-0.31},{"d":259,"v":-0.39},{"d":260,"v":-0.5},
{"d":261,"v":-0.52},{"d":262,"v":-0.58},{"d":263,"v":-0.45},{"d":264,"v":-0.36},{"d":265,"v":-0.53},{"d":266,"v":-0.57},{"d":267,"v":-0.64},{"d":268,"v":-0.57},{"d":269,"v":-0.43},{"d":270,"v":-0.53},
{"d":271,"v":-0.8},{"d":272,"v":-0.46},{"d":273,"v":-0.03},{"d":274,"v":-0.05},{"d":275,"v":-0.35},{"d":276,"v":-0.05},{"d":277,"v":0.04},{"d":278,"v":-0.12},{"d":279,"v":-0.21},{"d":280,"v":-0.55},
{"d":281,"v":-0.17},{"d":282,"v":-0.5},{"d":283,"v":-0.21},{"d":284,"v":-0.19},{"d":285,"v":-0.1},{"d":286,"v":0.23},{"d":287,"v":-0.43},{"d":288,"v":-0.38},{"d":289,"v":-0.73},{"d":290,"v":-0.27},
{"d":291,"v":-0.66},{"d":292,"v":-0.33},{"d":293,"v":-0.03},{"d":294,"v":0.23},{"d":295,"v":0.37},{"d":296,"v":0.5},{"d":297,"v":0.37},{"d":298,"v":0.11},{"d":299,"v":-0.53},{"d":300,"v":-0.78},
{"d":301,"v":-0.13},{"d":302,"v":0.02},{"d":303,"v":0.32},{"d":304,"v":-0.14},{"d":305,"v":-0.05},{"d":306,"v":0.12},{"d":307,"v":-0.31},{"d":308,"v":-0.89},{"d":309,"v":-0.86},{"d":310,"v":-0.57},
{"d":311,"v":-0.05},{"d":312,"v":-0.17},{"d":313,"v":0.1},{"d":314,"v":-0.21},{"d":315,"v":0.04},{"d":316,"v":-0.31},{"d":317,"v":-0.22},{"d":318,"v":-0.36},{"d":319,"v":-0.47},{"d":320,"v":-0.36},
{"d":321,"v":-0.26},{"d":322,"v":-0.35},{"d":323,"v":-0.05},{"d":324,"v":0.28},{"d":325,"v":-0.24},{"d":326,"v":-0.21},{"d":327,"v":-0.67},{"d":328,"v":-0.74},{"d":329,"v":-0.21},{"d":330,"v":-0.07},
{"d":331,"v":-0.05},{"d":332,"v":0.14},{"d":333,"v":-0.19},{"d":334,"v":-0.27},{"d":335,"v":0.07},{"d":336,"v":-0.11},{"d":337,"v":0.39},{"d":338,"v":0.34},{"d":339,"v":0.23},{"d":340,"v":-0.1},
{"d":341,"v":0.39},{"d":342,"v":0.16},{"d":343,"v":-0.31},{"d":344,"v":-0.86},{"d":345,"v":-0.46},{"d":346,"v":-0.64},{"d":347,"v":-0.59},{"d":348,"v":-0.52},{"d":349,"v":-0.27},{"d":350,"v":-0.24},
{"d":351,"v":-0.14},{"d":352,"v":0.12},{"d":353,"v":0.09},{"d":354,"v":-0.03},{"d":355,"v":-0.81},{"d":356,"v":-0.67},{"d":357,"v":-0.12},{"d":358,"v":0.24},{"d":359,"v":0.1},{"d":360,"v":-0.66},
{"d":361,"v":-0.71},{"d":362,"v":-0.8},{"d":363,"v":-0.43},{"d":364,"v":0.06},{"d":365,"v":0.92}
],
"t1": [{"d":1,"t":-0.47},{"d":15,"t":-0.37},{"d":30,"t":-0.28},{"d":45,"t":-0.2},{"d":60,"t":-0.14},{"d":75,"t":-0.08},{"d":90,"t":-0.02},{"d":105,"t":0.02},{"d":120,"t":0.03},{"d":135,"t":0.03},{"d":150,"t":0.02},{"d":165,"t":-0.03},{"d":180,"t":-0.1},{"d":195,"t":-0.12},{"d":210,"t":-0.12},{"d":225,"t":-0.12},{"d":240,"t":-0.12},{"d":255,"t":-0.11},{"d":270,"t":-0.11},{"d":285,"t":-0.11},{"d":300,"t":-0.12},{"d":315,"t":-0.14},{"d":330,"t":-0.17},{"d":345,"t":-0.21},{"d":365,"t":-0.25}],
"t2": [{"d":1,"t":-0.54},{"d":15,"t":-0.46},{"d":30,"t":-0.37},{"d":45,"t":-0.29},{"d":60,"t":-0.21},{"d":75,"t":-0.14},{"d":90,"t":-0.07},{"d":105,"t":-0.02},{"d":120,"t":0.02},{"d":135,"t":0.04},{"d":150,"t":0.03},{"d":165,"t":-0.01},{"d":180,"t":-0.06},{"d":195,"t":-0.09},{"d":210,"t":-0.11},{"d":225,"t":-0.14},{"d":240,"t":-0.17},{"d":255,"t":-0.19},{"d":270,"t":-0.2},{"d":285,"t":-0.21},{"d":300,"t":-0.22},{"d":315,"t":-0.24},{"d":330,"t":-0.25},{"d":345,"t":-0.27},{"d":365,"t":-0.29}],
"t3": [{"d":1,"t":-0.36},{"d":15,"t":-0.29},{"d":30,"t":-0.22},{"d":45,"t":-0.14},{"d":60,"t":-0.07},{"d":75,"t":-0.02},{"d":90,"t":0.03},{"d":105,"t":0.06},{"d":120,"t":0.08},{"d":135,"t":0.08},{"d":150,"t":0.07},{"d":165,"t":0.02},{"d":180,"t":-0.01},{"d":195,"t":-0.03},{"d":210,"t":-0.04},{"d":225,"t":-0.04},{"d":240,"t":-0.04},{"d":255,"t":-0.03},{"d":270,"t":-0.03},{"d":285,"t":-0.05},{"d":300,"t":-0.09},{"d":315,"t":-0.12},{"d":330,"t":-0.16},{"d":345,"t":-0.21},{"d":365,"t":-0.27}],
"t4": [{"d":1,"t":-0.59},{"d":15,"t":-0.54},{"d":30,"t":-0.49},{"d":45,"t":-0.43},{"d":60,"t":-0.37},{"d":75,"t":-0.31},{"d":90,"t":-0.25},{"d":105,"t":-0.21},{"d":120,"t":-0.18},{"d":135,"t":-0.15},{"d":150,"t":-0.15},{"d":165,"t":-0.17},{"d":180,"t":-0.2},{"d":195,"t":-0.21},{"d":210,"t":-0.22},{"d":225,"t":-0.23},{"d":240,"t":-0.24},{"d":255,"t":-0.24},{"d":270,"t":-0.23},{"d":285,"t":-0.23},{"d":300,"t":-0.22},{"d":315,"t":-0.21},{"d":330,"t":-0.19},{"d":345,"t":-0.18},{"d":365,"t":-0.16}],
"ymin": [{"g":-1.5},{"g":-0.5},{"g":0.5},{"g":1.5}],
"ymaj": [{"g":-2},{"g":-1},{"g":0},{"g":1},{"g":2}],
"xmin": [{"g":50},{"g":150},{"g":250},{"g":350}],
"xmaj": [{"g":0},{"g":100},{"g":200},{"g":300}]
},
"vconcat": [
{
 "width": 818, "height": 291,
 "title": {"text": "C1 - Marina Alta de Alicante", "frame": "group", "anchor": "middle", "offset": -60, "dx": 4, "baseline": "alphabetic", "fontSize": 22, "fontWeight": "bold", "color": "#262626", "font": "Liberation Sans"},
 "layer": [
  {"data": {"name": "ymin"}, "mark": {"type": "rule", "color": "#FFFFFF", "strokeWidth": 0.7}, "encoding": {"y": {"field": "g", "type": "quantitative", "scale": {"domain": [-2.21, 2.466], "nice": false, "zero": false}}}},
  {"data": {"name": "ymaj"}, "mark": {"type": "rule", "color": "#FFFFFF", "strokeWidth": 1.4}, "encoding": {"y": {"field": "g", "type": "quantitative", "scale": {"domain": [-2.21, 2.466], "nice": false, "zero": false}}}},
  {"data": {"name": "xmin"}, "mark": {"type": "rule", "color": "#FFFFFF", "strokeWidth": 0.7}, "encoding": {"x": {"field": "g", "type": "quantitative", "scale": {"domain": [-6.6, 379.2], "nice": false, "zero": false}}}},
  {"data": {"name": "xmaj"}, "mark": {"type": "rule", "color": "#FFFFFF", "strokeWidth": 1.4}, "encoding": {"x": {"field": "g", "type": "quantitative", "scale": {"domain": [-6.6, 379.2], "nice": false, "zero": false}}}},
  {"data": {"name": "c1"}, "mark": {"type": "bar", "width": 1.8},
   "encoding": {
    "x": {"field": "d", "type": "quantitative", "scale": {"domain": [-6.6, 379.2], "nice": false, "zero": false}, "axis": {"values": [0, 100, 200, 300], "labels": false, "ticks": true, "tickSize": 5, "tickColor": "#333333", "tickWidth": 1.1, "title": null}},
    "y": {"field": "v", "type": "quantitative", "scale": {"domain": [-2.21, 2.466], "nice": false, "zero": false}, "axis": {"values": [-2, -1, 0, 1, 2], "labelExpr": "'' + datum.value", "labelPadding": 21, "title": "CCI", "titleAngle": 270, "titleX": -2, "titleY": 145, "titleAlign": "center", "titleBaseline": "alphabetic"}},
    "y2": {"datum": 0},
    "color": {"condition": {"test": "datum.v > 0", "value": "#1F5A99"}, "value": "#B51F1F"}}},
  {"data": {"name": "t1"}, "mark": {"type": "line", "color": "#8C8C8C", "strokeWidth": 5, "opacity": 0.6, "interpolate": "monotone"}, "encoding": {"x": {"field": "d", "type": "quantitative", "scale": {"domain": [-6.6, 379.2], "nice": false, "zero": false}}, "y": {"field": "t", "type": "quantitative", "scale": {"domain": [-2.21, 2.466], "nice": false, "zero": false}}}},
  {"data": {"name": "t1"}, "mark": {"type": "line", "color": "#000000", "strokeWidth": 1.6, "strokeDash": [6, 3], "interpolate": "monotone"}, "encoding": {"x": {"field": "d", "type": "quantitative", "scale": {"domain": [-6.6, 379.2], "nice": false, "zero": false}}, "y": {"field": "t", "type": "quantitative", "scale": {"domain": [-2.21, 2.466], "nice": false, "zero": false}}}}
 ]
},
{
 "width": 818, "height": 293,
 "title": {"text": "C2 - Vega Baja del Segura - Alicante", "frame": "group", "anchor": "middle", "offset": -50, "dx": -2, "baseline": "alphabetic", "fontSize": 22, "fontWeight": "bold", "color": "#262626", "font": "Liberation Sans"},
 "layer": [
  {"data": {"name": "ymin"}, "mark": {"type": "rule", "color": "#FFFFFF", "strokeWidth": 0.7}, "encoding": {"y": {"field": "g", "type": "quantitative", "scale": {"domain": [-2.224, 2.464], "nice": false, "zero": false}}}},
  {"data": {"name": "ymaj"}, "mark": {"type": "rule", "color": "#FFFFFF", "strokeWidth": 1.4}, "encoding": {"y": {"field": "g", "type": "quantitative", "scale": {"domain": [-2.224, 2.464], "nice": false, "zero": false}}}},
  {"data": {"name": "xmin"}, "mark": {"type": "rule", "color": "#FFFFFF", "strokeWidth": 0.7}, "encoding": {"x": {"field": "g", "type": "quantitative", "scale": {"domain": [-6.6, 379.2], "nice": false, "zero": false}}}},
  {"data": {"name": "xmaj"}, "mark": {"type": "rule", "color": "#FFFFFF", "strokeWidth": 1.4}, "encoding": {"x": {"field": "g", "type": "quantitative", "scale": {"domain": [-6.6, 379.2], "nice": false, "zero": false}}}},
  {"data": {"name": "c2"}, "mark": {"type": "bar", "width": 1.8},
   "encoding": {
    "x": {"field": "d", "type": "quantitative", "scale": {"domain": [-6.6, 379.2], "nice": false, "zero": false}, "axis": {"values": [0, 100, 200, 300], "labels": false, "ticks": true, "tickSize": 5, "tickColor": "#333333", "tickWidth": 1.1, "title": null}},
    "y": {"field": "v", "type": "quantitative", "scale": {"domain": [-2.224, 2.464], "nice": false, "zero": false}, "axis": {"values": [-2, -1, 0, 1, 2], "labelExpr": "'' + datum.value", "labelPadding": 21, "title": "CCI", "titleAngle": 270, "titleX": -2, "titleY": 140, "titleAlign": "center", "titleBaseline": "alphabetic"}},
    "y2": {"datum": 0},
    "color": {"condition": {"test": "datum.v > 0", "value": "#1F5A99"}, "value": "#B51F1F"}}},
  {"data": {"name": "t2"}, "mark": {"type": "line", "color": "#8C8C8C", "strokeWidth": 5, "opacity": 0.6, "interpolate": "monotone"}, "encoding": {"x": {"field": "d", "type": "quantitative", "scale": {"domain": [-6.6, 379.2], "nice": false, "zero": false}}, "y": {"field": "t", "type": "quantitative", "scale": {"domain": [-2.224, 2.464], "nice": false, "zero": false}}}},
  {"data": {"name": "t2"}, "mark": {"type": "line", "color": "#000000", "strokeWidth": 1.6, "strokeDash": [6, 3], "interpolate": "monotone"}, "encoding": {"x": {"field": "d", "type": "quantitative", "scale": {"domain": [-6.6, 379.2], "nice": false, "zero": false}}, "y": {"field": "t", "type": "quantitative", "scale": {"domain": [-2.224, 2.464], "nice": false, "zero": false}}}}
 ]
},
{
 "width": 818, "height": 289,
 "title": {"text": "C3 - Campo de Cartagena", "frame": "group", "anchor": "middle", "offset": -50, "dx": 19, "baseline": "alphabetic", "fontSize": 22, "fontWeight": "bold", "color": "#262626", "font": "Liberation Sans"},
 "layer": [
  {"data": {"name": "ymin"}, "mark": {"type": "rule", "color": "#FFFFFF", "strokeWidth": 0.7}, "encoding": {"y": {"field": "g", "type": "quantitative", "scale": {"domain": [-2.226, 2.435], "nice": false, "zero": false}}}},
  {"data": {"name": "ymaj"}, "mark": {"type": "rule", "color": "#FFFFFF", "strokeWidth": 1.4}, "encoding": {"y": {"field": "g", "type": "quantitative", "scale": {"domain": [-2.226, 2.435], "nice": false, "zero": false}}}},
  {"data": {"name": "xmin"}, "mark": {"type": "rule", "color": "#FFFFFF", "strokeWidth": 0.7}, "encoding": {"x": {"field": "g", "type": "quantitative", "scale": {"domain": [-6.6, 379.2], "nice": false, "zero": false}}}},
  {"data": {"name": "xmaj"}, "mark": {"type": "rule", "color": "#FFFFFF", "strokeWidth": 1.4}, "encoding": {"x": {"field": "g", "type": "quantitative", "scale": {"domain": [-6.6, 379.2], "nice": false, "zero": false}}}},
  {"data": {"name": "c3"}, "mark": {"type": "bar", "width": 1.8},
   "encoding": {
    "x": {"field": "d", "type": "quantitative", "scale": {"domain": [-6.6, 379.2], "nice": false, "zero": false}, "axis": {"values": [0, 100, 200, 300], "labels": false, "ticks": true, "tickSize": 5, "tickColor": "#333333", "tickWidth": 1.1, "title": null}},
    "y": {"field": "v", "type": "quantitative", "scale": {"domain": [-2.226, 2.435], "nice": false, "zero": false}, "axis": {"values": [-2, -1, 0, 1, 2], "labelExpr": "'' + datum.value", "labelPadding": 21, "title": "CCI", "titleAngle": 270, "titleX": -2, "titleY": 144, "titleAlign": "center", "titleBaseline": "alphabetic"}},
    "y2": {"datum": 0},
    "color": {"condition": {"test": "datum.v > 0", "value": "#1F5A99"}, "value": "#B51F1F"}}},
  {"data": {"name": "t3"}, "mark": {"type": "line", "color": "#8C8C8C", "strokeWidth": 5, "opacity": 0.6, "interpolate": "monotone"}, "encoding": {"x": {"field": "d", "type": "quantitative", "scale": {"domain": [-6.6, 379.2], "nice": false, "zero": false}}, "y": {"field": "t", "type": "quantitative", "scale": {"domain": [-2.226, 2.435], "nice": false, "zero": false}}}},
  {"data": {"name": "t3"}, "mark": {"type": "line", "color": "#000000", "strokeWidth": 1.6, "strokeDash": [6, 3], "interpolate": "monotone"}, "encoding": {"x": {"field": "d", "type": "quantitative", "scale": {"domain": [-6.6, 379.2], "nice": false, "zero": false}}, "y": {"field": "t", "type": "quantitative", "scale": {"domain": [-2.226, 2.435], "nice": false, "zero": false}}}}
 ]
},
{
 "width": 818, "height": 327,
 "title": {"text": "C4 - Litoral sur de la Región de Murcia", "frame": "group", "anchor": "middle", "offset": -54, "dx": -13, "baseline": "alphabetic", "fontSize": 22, "fontWeight": "bold", "color": "#262626", "font": "Liberation Sans"},
 "layer": [
  {"data": {"name": "ymin"}, "mark": {"type": "rule", "color": "#FFFFFF", "strokeWidth": 0.7}, "encoding": {"y": {"field": "g", "type": "quantitative", "scale": {"domain": [-2.19, 2.41], "nice": false, "zero": false}}}},
  {"data": {"name": "ymaj"}, "mark": {"type": "rule", "color": "#FFFFFF", "strokeWidth": 1.4}, "encoding": {"y": {"field": "g", "type": "quantitative", "scale": {"domain": [-2.19, 2.41], "nice": false, "zero": false}}}},
  {"data": {"name": "xmin"}, "mark": {"type": "rule", "color": "#FFFFFF", "strokeWidth": 0.7}, "encoding": {"x": {"field": "g", "type": "quantitative", "scale": {"domain": [-6.6, 379.2], "nice": false, "zero": false}}}},
  {"data": {"name": "xmaj"}, "mark": {"type": "rule", "color": "#FFFFFF", "strokeWidth": 1.4}, "encoding": {"x": {"field": "g", "type": "quantitative", "scale": {"domain": [-6.6, 379.2], "nice": false, "zero": false}}}},
  {"data": {"name": "c4"}, "mark": {"type": "bar", "width": 1.8},
   "encoding": {
    "x": {"field": "d", "type": "quantitative", "scale": {"domain": [-6.6, 379.2], "nice": false, "zero": false}, "axis": {"values": [0, 100, 200, 300], "labelBaseline": "alphabetic", "labelPadding": -4, "labelFlush": false, "title": "Day of year", "titleX": 344, "titleY": -4, "titleAlign": "center", "titleBaseline": "alphabetic"}},
    "y": {"field": "v", "type": "quantitative", "scale": {"domain": [-2.19, 2.41], "nice": false, "zero": false}, "axis": {"values": [-2, -1, 0, 1, 2], "labelExpr": "'' + datum.value", "labelPadding": 21, "title": "CCI", "titleAngle": 270, "titleX": -2, "titleY": 171, "titleAlign": "center", "titleBaseline": "alphabetic"}},
    "y2": {"datum": 0},
    "color": {"condition": {"test": "datum.v > 0", "value": "#1F5A99"}, "value": "#B51F1F"}}},
  {"data": {"name": "t4"}, "mark": {"type": "line", "color": "#8C8C8C", "strokeWidth": 5, "opacity": 0.6, "interpolate": "monotone"}, "encoding": {"x": {"field": "d", "type": "quantitative", "scale": {"domain": [-6.6, 379.2], "nice": false, "zero": false}}, "y": {"field": "t", "type": "quantitative", "scale": {"domain": [-2.19, 2.41], "nice": false, "zero": false}}}},
  {"data": {"name": "t4"}, "mark": {"type": "line", "color": "#000000", "strokeWidth": 1.6, "strokeDash": [6, 3], "interpolate": "monotone"}, "encoding": {"x": {"field": "d", "type": "quantitative", "scale": {"domain": [-6.6, 379.2], "nice": false, "zero": false}}, "y": {"field": "t", "type": "quantitative", "scale": {"domain": [-2.19, 2.41], "nice": false, "zero": false}}}}
 ]
}
]
}
